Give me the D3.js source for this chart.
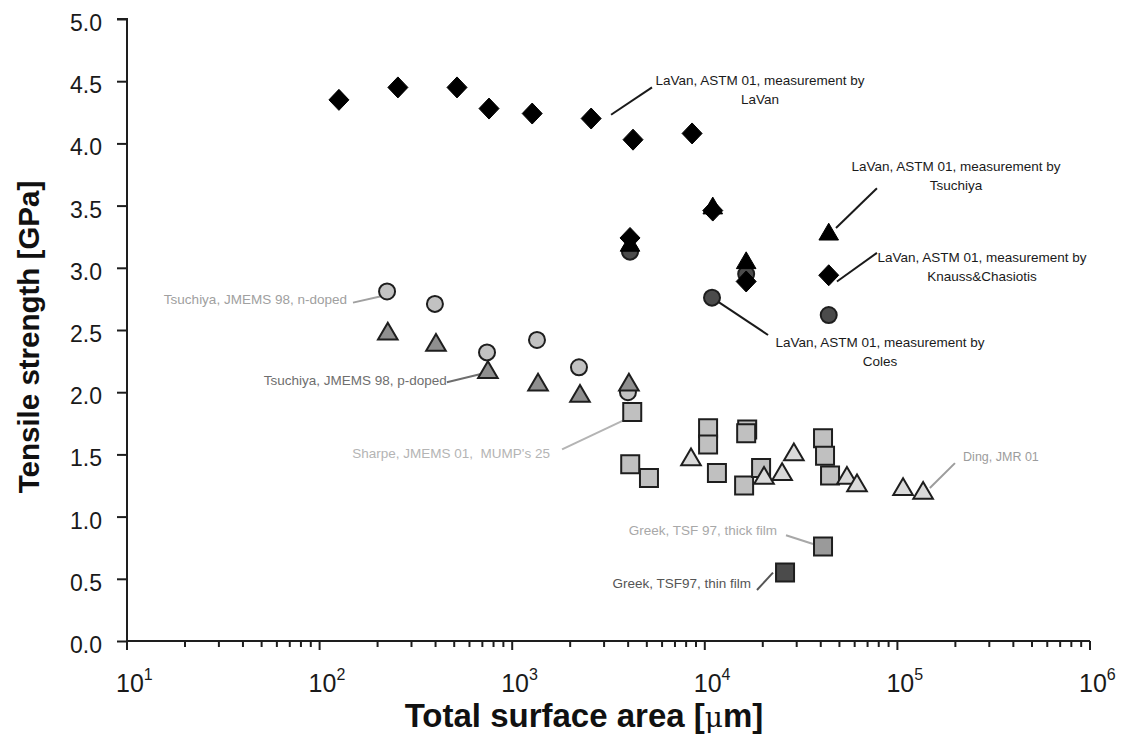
<!DOCTYPE html>
<html><head><meta charset="utf-8">
<script src="https://cdn.jsdelivr.net/npm/d3@7"></script>
<style>body{margin:0;background:#fff}svg{display:block}</style>
</head><body>
<svg id="c" width="1121" height="735"></svg>
<script>
// ---- data (x: total surface area, y: tensile strength GPa) ----
const lavanX = [126, 255, 517, 758, 1270, 2570, 4240, 8590];
const lavanY = [4.35, 4.45, 4.45, 4.28, 4.24, 4.20, 4.03, 4.08];
const knaussX = [4090, 11000, 16400, 44000];
const knaussY = [3.24, 3.46, 2.89, 2.94];
const tsuMeasX = [4090, 11000, 16400, 44000];
const tsuMeasY = [3.20, 3.50, 3.06, 3.29];
const colesX = [4090, 10900, 16400, 44000];
const colesY = [3.13, 2.76, 2.95, 2.62];
const nDopedX = [224, 397, 740, 1345, 2222, 3990];
const nDopedY = [2.81, 2.71, 2.32, 2.42, 2.20, 2.00];
const pDopedX = [226, 402, 748, 1362, 2249, 4036];
const pDopedY = [2.49, 2.40, 2.18, 2.08, 1.99, 2.08];
const sharpeX = [4200, 4100, 5130, 10400, 10400, 11560, 16600, 16400, 16000, 19600, 41100, 42100, 44700];
const sharpeY = [1.84, 1.42, 1.31, 1.71, 1.58, 1.35, 1.70, 1.67, 1.25, 1.39, 1.63, 1.49, 1.33];
const dingX = [8480, 20300, 25200, 29000, 54700, 61700, 107000, 136000];
const dingY = [1.48, 1.33, 1.36, 1.52, 1.33, 1.27, 1.24, 1.21];
const thickX = [41100];
const thickY = [0.76];
const thinX = [26100];
const thinY = [0.55];

const yTicks = [0, 0.5, 1, 1.5, 2, 2.5, 3, 3.5, 4, 4.5, 5];
const yTickLabels = ["0.0","0.5","1.0","1.5","2.0","2.5","3.0","3.5","4.0","4.5","5.0"];
const xTickExp = [1, 2, 3, 4, 5, 6];
const xTitle = "Total surface area [";
const xTitleUnit = "μ";
const yTitle = "Tensile strength [GPa]";

// annotation texts and anchor/leader positions in data units
const annotations = [
  {lines:["LaVan, ASTM 01, measurement by","LaVan"], tx:19360, ty:4.47, anchor:"middle", color:"#1a1a1a", l:[[3260,4.23],[5320,4.45]]},
  {lines:["LaVan, ASTM 01, measurement by","Tsuchiya"], tx:201400, ty:3.78, anchor:"middle", color:"#1a1a1a", l:[[78300,3.64],[48000,3.32]]},
  {lines:["LaVan, ASTM 01, measurement by","Knauss&Chasiotis"], tx:274800, ty:3.05, anchor:"middle", color:"#1a1a1a", l:[[48550,2.89],[78300,3.12]]},
  {lines:["LaVan, ASTM 01, measurement by","Coles"], tx:81300, ty:2.36, anchor:"middle", color:"#1a1a1a", l:[[10890,2.76],[21300,2.46]]},
  {lines:["Tsuchiya, JMEMS 98, n-doped"], tx:138.7, ty:2.71, anchor:"end", color:"#a0a0a0", l:[[149,2.72],[206,2.77]]},
  {lines:["Tsuchiya, JMEMS 98, p-doped"], tx:458, ty:2.06, anchor:"end", color:"#6e6e6e", l:[[458,2.08],[705,2.15]]},
  {lines:["Sharpe, JMEMS 01,  MUMP's 25"], tx:1570, ty:1.47, anchor:"end", color:"#b4b4b4", l:[[1815,1.54],[3855,1.78]]},
  {lines:["Ding, JMR 01"], tx:219300, ty:1.45, anchor:"start", color:"#9c9c9c", l:[[147400,1.23],[199000,1.43]]},
  {lines:["Greek, TSF 97, thick film"], tx:23700, ty:0.85, anchor:"end", color:"#a8a8a8", l:[[26400,0.85],[36500,0.78]]},
  {lines:["Greek, TSF97, thin film"], tx:17380, ty:0.43, anchor:"end", color:"#555", l:[[18660,0.41],[22600,0.55]]}
];

// ---- drawing ----
const svg = d3.select("#c");
const x = d3.scaleLog().domain([10, 1e6]).range([127, 1090]);
const y = d3.scaleLinear().domain([0, 5]).range([641, 19]);
const AX = "#1e1e1e";
const FONT = "'Liberation Sans', Arial, sans-serif";

// y axis
const yAxis = d3.axisLeft(y).tickValues(yTicks).tickSize(10).tickFormat(() => "");
const gy = svg.append("g").attr("transform", "translate(127,0)").call(yAxis);
gy.select(".domain").attr("stroke", AX).attr("stroke-width", 2).attr("d", `M-10,${y(5)}H0V${y(0)}`);
gy.selectAll(".tick line").attr("stroke", AX).attr("stroke-width", 2);
svg.append("g").selectAll("text").data(yTicks).join("text")
  .attr("x", 102).attr("y", d => y(d) + 12)
  .attr("text-anchor", "end").attr("font-family", FONT).attr("font-size", 23).attr("fill", "#1a1a1a")
  .text((d, i) => yTickLabels[i]);

// x axis with minor ticks
const minor = [];
for (let e = 1; e < 6; e++) for (let m = 2; m <= 9; m++) minor.push(m * Math.pow(10, e));
const gx = svg.append("g").attr("transform", `translate(0,${y(0)})`);
gx.append("path").attr("d", `M${x(10)},0H${x(1e6)}`).attr("stroke", AX).attr("stroke-width", 2).attr("fill", "none");
gx.selectAll("line.maj").data(xTickExp).join("line").attr("class", "maj")
  .attr("x1", d => x(Math.pow(10, d))).attr("x2", d => x(Math.pow(10, d)))
  .attr("y1", 0).attr("y2", 9).attr("stroke", AX).attr("stroke-width", 2);
gx.selectAll("line.min").data(minor).join("line").attr("class", "min")
  .attr("x1", d => x(d)).attr("x2", d => x(d))
  .attr("y1", 0).attr("y2", 6).attr("stroke", AX).attr("stroke-width", 2);
const xl = svg.append("g").selectAll("text").data(xTickExp).join("text")
  .attr("x", d => x(Math.pow(10, d)) - 11).attr("y", 692)
  .attr("font-family", FONT).attr("font-size", 25).attr("fill", "#1a1a1a");
xl.append("tspan").text("10");
xl.append("tspan").attr("dy", -12).attr("font-size", 16).text(d => d);

// axis titles
const xt = svg.append("text").attr("x", 584).attr("y", 727).attr("text-anchor", "middle")
  .attr("font-family", FONT).attr("font-weight", "bold").attr("font-size", 33).attr("fill", "#111");
xt.append("tspan").text(xTitle);
xt.append("tspan").attr("font-family", "'DejaVu Serif', 'Liberation Serif', serif").attr("font-weight", "normal").attr("font-size", 28).text(xTitleUnit);
xt.append("tspan").text("m]");
svg.append("text").attr("transform", `translate(39,${(y(0)+y(5))/2 + 7}) rotate(-90)`)
  .attr("text-anchor", "middle").attr("font-family", FONT).attr("font-weight", "bold").attr("font-size", 29.5).attr("fill", "#111")
  .text(yTitle);

// marker shapes
const shapes = {
  circle: "M8,0A8,8 0 1,1 -8,0A8,8 0 1,1 8,0Z",
  square: "M-9,-9H9V9H-9Z",
  triangle: "M0,-8.5L9.8,8.3H-9.8Z",
  diamond: "M0,-10.5L10,0L0,10.5L-10,0Z"
};
function series(xs, ys, shape, fill, stroke, sw) {
  svg.append("g").selectAll("path").data(xs.map((v, i) => [v, ys[i]])).join("path")
    .attr("transform", d => `translate(${x(d[0])},${y(d[1])})`)
    .attr("d", shapes[shape]).attr("fill", fill).attr("stroke", stroke).attr("stroke-width", sw)
    .attr("stroke-linejoin", "miter");
}

// leader lines (under markers)
const lg = svg.append("g");
annotations.forEach(a => {
  lg.append("line").attr("x1", x(a.l[0][0])).attr("y1", y(a.l[0][1]))
    .attr("x2", x(a.l[1][0])).attr("y2", y(a.l[1][1]))
    .attr("stroke", a.color).attr("stroke-width", 2);
});

series(colesX, colesY, "circle", "#4b4b4b", "#1e1e1e", 2);
series(tsuMeasX, tsuMeasY, "triangle", "#000", "#000", 1);
series(knaussX, knaussY, "diamond", "#000", "#000", 1);
series(lavanX, lavanY, "diamond", "#000", "#000", 1);
series(nDopedX, nDopedY, "circle", "#c2c2c2", "#1e1e1e", 2);
series(pDopedX, pDopedY, "triangle", "#8f8f8f", "#1e1e1e", 2);
series(sharpeX, sharpeY, "square", "#c0c0c0", "#1e1e1e", 2);
series(dingX, dingY, "triangle", "#dadada", "#1e1e1e", 2);
series(thickX, thickY, "square", "#9a9a9a", "#1e1e1e", 2);
series(thinX, thinY, "square", "#4b4b4b", "#1e1e1e", 2);

// annotation texts
const tg = svg.append("g");
annotations.forEach(a => {
  const t = tg.append("text").attr("x", x(a.tx)).attr("y", y(a.ty)).style("white-space", "pre")
    .attr("text-anchor", a.anchor).attr("font-family", FONT).attr("font-size", a.lines[0].length < 14 ? 12.5 : 13.5).attr("fill", a.color);
  a.lines.forEach((s, i) => t.append("tspan").attr("x", x(a.tx)).attr("dy", i === 0 ? 0 : 19).text(s));
});
</script>
</body></html>
